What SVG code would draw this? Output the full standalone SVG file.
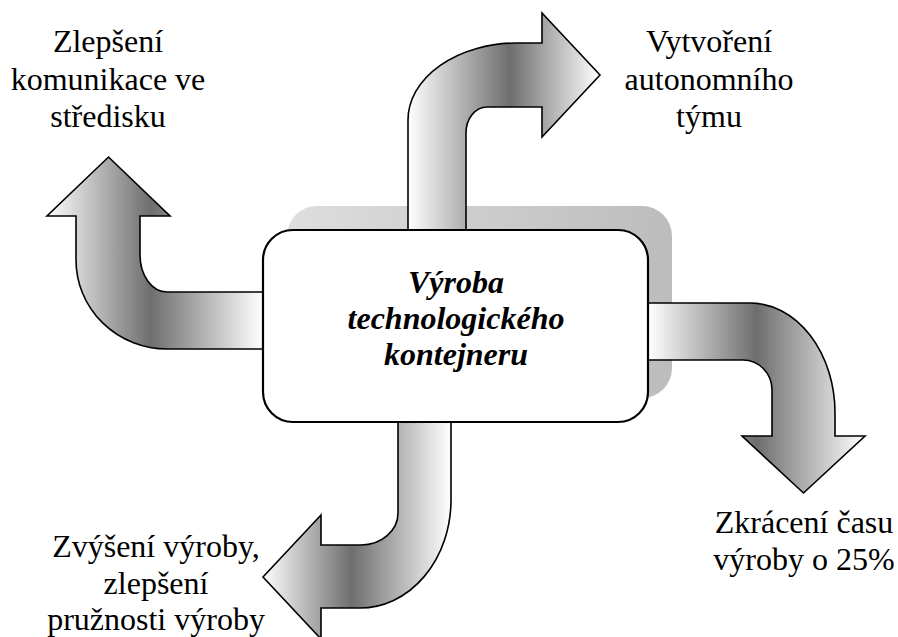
<svg xmlns="http://www.w3.org/2000/svg" width="898" height="637" viewBox="0 0 898 637">
  <defs>
    <style>
      .arrow { stroke: #000; stroke-width: 1.6; stroke-linejoin: miter; }
      .label { font-family: "Liberation Serif", "Times New Roman", serif; font-size: 32px; fill: #000; text-anchor: middle; }
      .title { font-family: "Liberation Serif", "Times New Roman", serif; font-size: 32px; font-weight: bold; font-style: italic; fill: #000; text-anchor: middle; }
    </style>
    <!-- horizontal metallic shading: light - dark - light -->
    <linearGradient id="gTop" gradientUnits="userSpaceOnUse" x1="408" y1="0" x2="600" y2="0">
      <stop offset="0" stop-color="#ffffff"/>
      <stop offset="0.53" stop-color="#6e6e6e"/>
      <stop offset="1" stop-color="#ffffff"/>
    </linearGradient>
    <linearGradient id="gRight" gradientUnits="userSpaceOnUse" x1="648" y1="0" x2="865" y2="0">
      <stop offset="0" stop-color="#ffffff"/>
      <stop offset="0.5" stop-color="#6e6e6e"/>
      <stop offset="1" stop-color="#ffffff"/>
    </linearGradient>
    <linearGradient id="gLeft" gradientUnits="userSpaceOnUse" x1="47" y1="0" x2="263" y2="0">
      <stop offset="0" stop-color="#ffffff"/>
      <stop offset="0.48" stop-color="#6e6e6e"/>
      <stop offset="1" stop-color="#ffffff"/>
    </linearGradient>
    <linearGradient id="gBottom" gradientUnits="userSpaceOnUse" x1="263" y1="0" x2="451" y2="0">
      <stop offset="0" stop-color="#ffffff"/>
      <stop offset="0.47" stop-color="#6e6e6e"/>
      <stop offset="1" stop-color="#ffffff"/>
    </linearGradient>
    <linearGradient id="gShadow" gradientUnits="userSpaceOnUse" x1="287" y1="0" x2="672" y2="0">
      <stop offset="0" stop-color="#dedede"/>
      <stop offset="1" stop-color="#bcbcbc"/>
    </linearGradient>
  </defs>

  <rect width="898" height="637" fill="#ffffff"/>

  <!-- shadow behind the central block -->
  <rect id="center-shadow" x="287" y="206" width="385" height="192" rx="30" ry="30" fill="url(#gShadow)"/>

  <!-- curved block arrows leaving the central block -->
  <g id="connectors">
    <path id="arrow-top" class="arrow" fill="url(#gTop)"
          d="M 408 240 L 408 120 A 109 77 0 0 1 517 43 L 542 43 L 542 13 L 600 75 L 542 137 L 542 107 L 487 107 A 21 26 0 0 0 466 133 L 466 240 Z"/>
    <path id="arrow-right" class="arrow" fill="url(#gRight)"
          d="M 640 303 L 750 303 A 85 110 0 0 1 835 413 L 835 436 L 865 436 L 803.5 493 L 742 436 L 772 436 L 772 390 A 29 30 0 0 0 743 360 L 640 360 Z"/>
    <path id="arrow-left" class="arrow" fill="url(#gLeft)"
          d="M 270 292 L 167 292 A 27 37 0 0 1 140 255 L 140 216 L 170 216 L 108.5 157 L 47 216 L 76 216 L 76 260 A 91 89 0 0 0 167 349 L 270 349 Z"/>
    <path id="arrow-bottom" class="arrow" fill="url(#gBottom)"
          d="M 398 415 L 398 513 A 37 32 0 0 1 361 545 L 321 545 L 321 515 L 263 577 L 321 639 L 321 608 L 360 608 A 91 108 0 0 0 451 500 L 451 415 Z"/>
  </g>

  <!-- central block -->
  <g id="node-center">
    <rect x="263" y="230" width="385" height="192" rx="30" ry="30" fill="#ffffff" stroke="#000" stroke-width="2.2"/>
    <text class="title" x="456" y="293">Výroba</text>
    <text class="title" x="456" y="329">technologického</text>
    <text class="title" x="456" y="365">kontejneru</text>
  </g>

  <g id="node-communication">
    <text class="label" x="108" y="52">Zlepšení</text>
    <text class="label" x="108" y="90">komunikace ve</text>
    <text class="label" x="108" y="127">středisku</text>
  </g>

  <g id="node-team">
    <text class="label" x="709" y="52">Vytvoření</text>
    <text class="label" x="709" y="90">autonomního</text>
    <text class="label" x="709" y="127">týmu</text>
  </g>

  <g id="node-time">
    <text class="label" x="804" y="533">Zkrácení času</text>
    <text class="label" x="804" y="570">výroby o 25%</text>
  </g>

  <g id="node-output">
    <text class="label" x="156" y="557">Zvýšení výroby,</text>
    <text class="label" x="156" y="594">zlepšení</text>
    <text class="label" x="156" y="630">pružnosti výroby</text>
  </g>
</svg>
